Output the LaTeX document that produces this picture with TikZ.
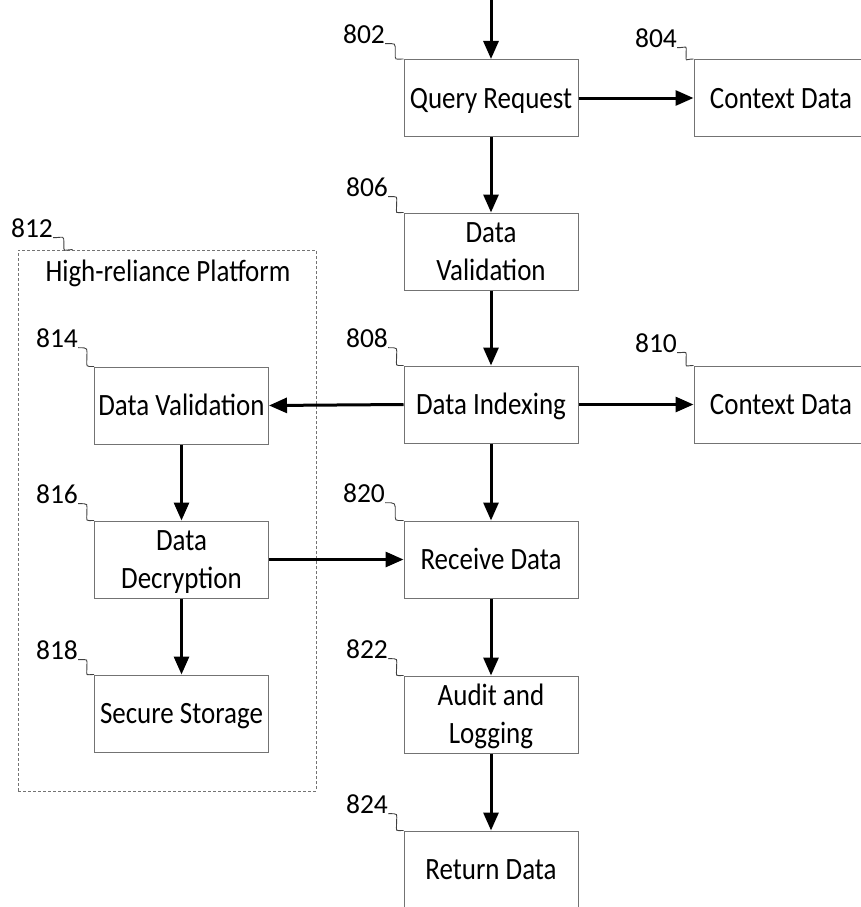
\documentclass[tikz,border=0pt]{standalone}
\usepackage{fontspec}
\setmainfont{Carlito}
\newfontfamily\boxfont[FakeStretch=0.87]{Carlito}
\usetikzlibrary{arrows.meta,calc}
\begin{document}
\begin{tikzpicture}[x=1pt,y=-1pt,
  every node/.style={font=\fontsize{27.5}{33}\selectfont},
  blk/.style={draw=black!55, line width=1pt, minimum width=174pt, minimum height=77pt, inner sep=0pt, align=center,
    font=\boxfont\fontsize{31}{38}\selectfont, text height=20pt, text depth=0pt},
  twoline/.style={text height=58pt},
  flow/.style={line width=3pt, -{Triangle[length=18pt,width=15pt]}},
  tag/.style={inner sep=0pt},
  lead/.style={draw=black!75, line width=0.9pt},
  leader/.style={to path={.. controls +(11,0) and +(0,-10) .. ($(\tikztostart)!0.55!(\tikztotarget)$) .. controls +(0,9) and +(-9,0) .. (\tikztotarget)}},
  group/.style={draw=black!55, line width=0.8pt, dashed, dash pattern=on 3pt off 2pt}]
\useasboundingbox (0,0) rectangle (861,907);

% platform container
\node[group, minimum width=298pt, minimum height=541pt, inner sep=0pt] (g812) at (167,520.5) {};
\node[inner sep=0pt, font=\boxfont\fontsize{31}{38}\selectfont, text height=20pt, text depth=0pt] (hrp) at (168,271) {High-reliance Platform};

% main column
\node[blk] (q)   at (491,98)    {Query Request};
\node[blk, twoline] (dv)  at (491,251.5) {Data\\Validation};
\node[blk] (di)  at (491,404.5) {Data Indexing};
\node[blk] (rd)  at (491,559.5) {Receive Data};
\node[blk, twoline] (al)  at (491,714.5) {Audit and\\Logging};
\node[blk] (ret) at (491,869.5) {Return Data};

% right column
\node[blk] (c1) at (781,98)    {Context Data};
\node[blk] (c2) at (781,404.5) {Context Data};

% left column
\node[blk] (v2) at (181.5,405.5) {Data Validation};
\node[blk, twoline] (dd) at (181.5,559.5) {Data\\Decryption};
\node[blk] (ss) at (181.5,713.5) {Secure Storage};

% reference numerals
\node[tag] (l802) at (364,34)  {802};
\node[tag] (l804) at (656,38)  {804};
\node[tag] (l806) at (367,187) {806};
\node[tag] (l808) at (367,338) {808};
\node[tag] (l810) at (656,343) {810};
\node[tag] (l812) at (32,228)  {812};
\node[tag] (l814) at (57,338)  {814};
\node[tag] (l816) at (57,494)  {816};
\node[tag] (l818) at (57,650)  {818};
\node[tag] (l820) at (364,493) {820};
\node[tag] (l822) at (367,649) {822};
\node[tag] (l824) at (367,804) {824};

% leaders
\draw[lead] (l802.south east) to[leader] (q.north west);
\draw[lead] (l804.south east) to[leader] (c1.north west);
\draw[lead] (l806.south east) to[leader] (dv.north west);
\draw[lead] (l808.south east) to[leader] (di.north west);
\draw[lead] (l810.south east) to[leader] (c2.north west);
\draw[lead] (l812.south east) to[leader] ($(g812.north west)+(55,0)$);
\draw[lead] (l814.south east) to[leader] (v2.north west);
\draw[lead] (l816.south east) to[leader] (dd.north west);
\draw[lead] (l818.south east) to[leader] (ss.north west);
\draw[lead] (l820.south east) to[leader] (rd.north west);
\draw[lead] (l822.south east) to[leader] (al.north west);
\draw[lead] (l824.south east) to[leader] (ret.north west);

% flow arrows
\coordinate (in) at (491,0);
\draw[flow] (in) -- (q.north);
\draw[flow] (q) -- (dv);
\draw[flow] (dv) -- (di);
\draw[flow] (di) -- (rd);
\draw[flow] (rd) -- (al);
\draw[flow] (al) -- (ret);
\draw[flow] (q) -- (c1);
\draw[flow] (di.west) -- (v2.east);
\draw[flow] (di) -- (c2);
\draw[flow] (dd.east) -- (rd.west);
\draw[flow] (v2) -- (dd);
\draw[flow] (dd) -- (ss);
\end{tikzpicture}
\end{document}
